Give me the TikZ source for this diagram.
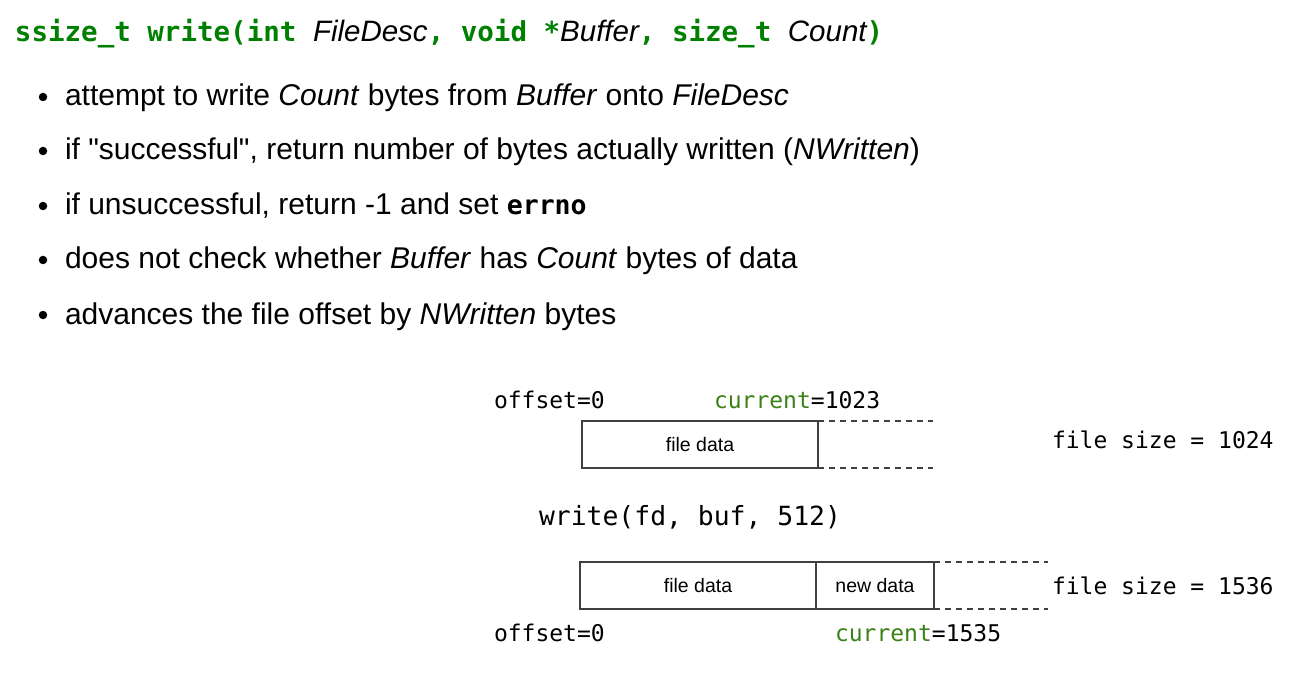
\documentclass[tikz,border=0pt]{standalone}
\usepackage{fontspec}
\setmainfont{Liberation Sans}
\newfontfamily\qfont{Liberation Sans}
\newfontfamily\monofont{DejaVu Sans Mono}
\definecolor{hdrgreen}{RGB}{0,128,0}
\definecolor{curgreen}{RGB}{58,130,22}
\newcommand{\hdrit}[1]{{\normalfont\fontsize{29.5}{32}\selectfont\itshape\color{black}#1}}
\begin{document}
\begin{tikzpicture}[x=1pt,y=-1pt,
  every node/.style={inner sep=0pt,outer sep=0pt},
  bullettext/.style={anchor=base west,font=\fontsize{30}{33}\selectfont},
  bulletdot/.style={circle,fill=black,minimum size=8.5pt},
  monotext/.style={anchor=base west,font=\monofont\fontsize{23}{26}\selectfont},
  databox/.style={draw=black!75,line width=1.3pt,minimum height=47pt,font=\fontsize{19.5}{22}\selectfont},
  guide/.style={draw=black!75,line width=1.1pt,dash pattern=on 6pt off 5pt}]
\useasboundingbox (0,0) rectangle (1310,679);
% header
\node[anchor=base west,font=\monofont\bfseries\fontsize{27.5}{30}\selectfont,text=hdrgreen] (hdr) at (15,42)
 {ssize\_t write(int \hdrit{FileDesc}, void *\hdrit{Buffer}, size\_t \hdrit{Count})};
% bullets
\node[bulletdot] (d1) at (43,97) {};
\node[bulletdot] (d2) at (43,151) {};
\node[bulletdot] (d3) at (43,206) {};
\node[bulletdot] (d4) at (43,260) {};
\node[bulletdot] (d5) at (43,315) {};
\node[bullettext] (b1) at (65,106) {attempt to write \textit{Count} bytes from \textit{Buffer} onto \textit{FileDesc}};
\node[bullettext] (b2) at (65,160) {if {\qfont"successful"}, return number of bytes actually written (\textit{NWritten})};
\node[bullettext] (b3) at (65,215) {if unsuccessful, return -1 and set {\monofont\bfseries\fontsize{26.5}{28}\selectfont errno}};
\node[bullettext] (b4) at (65,269) {does not check whether \textit{Buffer} has \textit{Count} bytes of data};
\node[bullettext] (b5) at (65,324) {advances the file offset by \textit{NWritten} bytes};
% first diagram
\node[monotext] (off1) at (494,408) {offset=0};
\node[monotext] (cur1) at (714,408) {\textcolor{curgreen}{current}=1023};
\node[databox,minimum width=236pt] (fd1) at (700,444.5) {file data};
\coordinate (t1) at (933,421);
\coordinate (u1) at (933,468);
\draw[guide] (fd1.north east) -- (fd1.north east -| t1);
\draw[guide] (fd1.south east) -- (fd1.south east -| u1);
\node[monotext] (fs1) at (1052,448) {file size = 1024};
% call
\node[anchor=base west,font=\monofont\fontsize{26.4}{30}\selectfont] (call) at (539,525) {write(fd, buf, 512)};
% second diagram
\node[databox,minimum width=236pt] (fd2) at (698,585.5) {file data};
\node[databox,minimum width=118pt,anchor=west] (nd2) at (fd2.east) {new data};
\coordinate (t2) at (1048,562);
\draw[guide] (nd2.north east) -- (nd2.north east -| t2);
\draw[guide] (nd2.south east) -- (nd2.south east -| t2);
\node[monotext] (fs2) at (1052,594) {file size = 1536};
\node[monotext] (off2) at (494,641) {offset=0};
\node[monotext] (cur2) at (835,641) {\textcolor{curgreen}{current}=1535};
\end{tikzpicture}
\end{document}
